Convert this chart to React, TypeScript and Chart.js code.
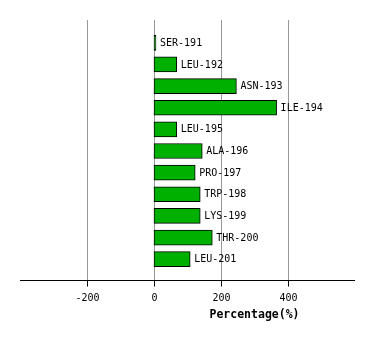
import React, { useEffect, useRef } from "react";
import { Chart, registerables } from "chart.js";

Chart.register(...registerables);

const categories = ["SER-191", "LEU-192", "ASN-193", "ILE-194", "LEU-195", "ALA-196", "PRO-197", "TRP-198", "LYS-199", "THR-200", "LEU-201"];
const values = [6, 68, 246, 366, 68, 144, 123, 138, 138, 174, 108];
const tickValues = [-200, 0, 200, 400];
const axisTitle = "Percentage(%)";

const decorPlugin = {
  id: "decor",
  beforeDatasetsDraw(chart: any) {
    const { ctx, chartArea, scales } = chart;
    const xs = scales.x;
    const top = chartArea.top - 12;
    const axisY = chartArea.bottom + 10;
    ctx.save();
    ctx.strokeStyle = "#999999";
    ctx.lineWidth = 1;
    for (const v of tickValues) {
      const px = Math.round(xs.getPixelForValue(v)) + 0.5;
      ctx.beginPath();
      ctx.moveTo(px, top);
      ctx.lineTo(px, axisY);
      ctx.stroke();
    }
    ctx.restore();
  },
  afterDatasetsDraw(chart: any) {
    const { ctx, chartArea, scales } = chart;
    const xs = scales.x;
    const ys = scales.y;
    const axisY = Math.round(chartArea.bottom + 10) + 0.5;
    ctx.save();
    ctx.strokeStyle = "#000000";
    ctx.lineWidth = 1;
    ctx.beginPath();
    ctx.moveTo(chartArea.left, axisY);
    ctx.lineTo(chartArea.right, axisY);
    ctx.stroke();
    ctx.fillStyle = "#000000";
    ctx.font = "10px 'DejaVu Sans Mono'";
    ctx.textAlign = "center";
    ctx.textBaseline = "middle";
    for (const v of tickValues) {
      const px = Math.round(xs.getPixelForValue(v)) + 0.5;
      ctx.beginPath();
      ctx.moveTo(px, axisY);
      ctx.lineTo(px, axisY + 6);
      ctx.stroke();
      ctx.fillText(String(v), px, axisY + 18);
    }
    ctx.font = "bold 11.5px 'DejaVu Sans Mono'";
    ctx.fillText(axisTitle, xs.getPixelForValue(300), axisY + 35);
    ctx.font = "10px 'DejaVu Sans Mono'";
    ctx.textAlign = "left";
    values.forEach((v, i) => {
      const px = xs.getPixelForValue(v);
      const py = ys.getPixelForValue(i);
      ctx.fillText(categories[i], px + 4, py + 0.5);
    });
    ctx.restore();
  },
};

export default function App() {
  const ref = useRef<HTMLCanvasElement>(null);
  useEffect(() => {
    const chart = new Chart(ref.current!, {
      type: "bar",
      data: {
        labels: categories,
        datasets: [
          {
            data: values,
            backgroundColor: "#00b000",
            borderColor: "#000000",
            borderWidth: 1,
            borderSkipped: false,
            barThickness: 15,
          },
        ],
      },
      options: {
        indexAxis: "y",
        animation: false,
        responsive: false,
        maintainAspectRatio: false,
        layout: { padding: { left: 20, right: 19, top: 32, bottom: 70 } },
        plugins: { legend: { display: false }, tooltip: { enabled: false }, title: { display: false } },
        scales: {
          x: { type: "linear", min: -400, max: 600, display: false },
          y: { type: "category", display: false, offset: true },
        },
      },
      plugins: [decorPlugin],
    });
    return () => chart.destroy();
  }, []);
  return (
    <div style={{ position: "fixed", left: 0, top: 0, width: 374, height: 340, background: "#ffffff" }}>
      <canvas ref={ref} width={374} height={340} style={{ width: 374, height: 340 }} />
    </div>
  );
}
